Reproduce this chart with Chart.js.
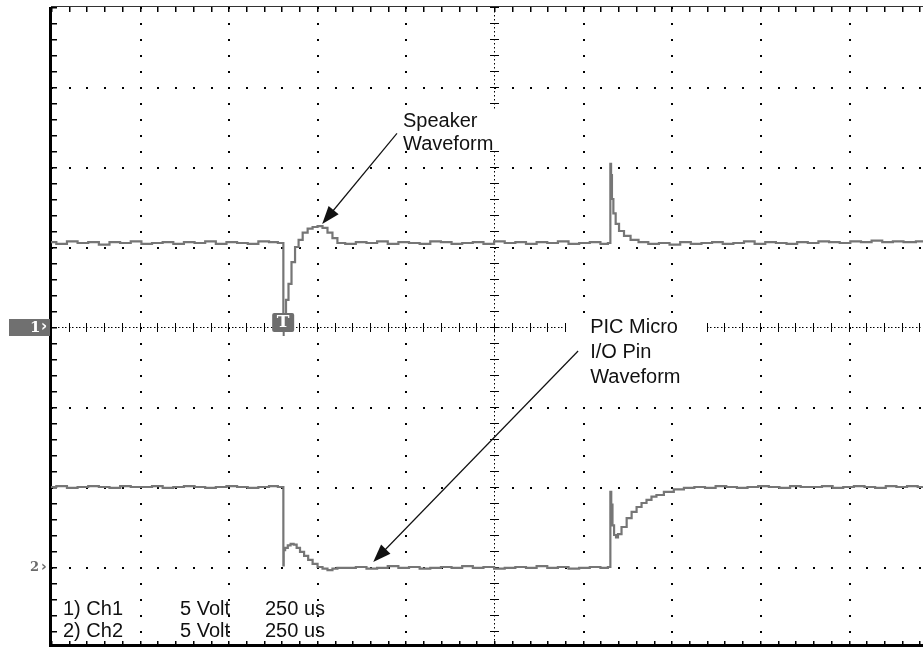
<!DOCTYPE html>
<html>
<head>
<meta charset="utf-8">
<title>Speaker / PIC I/O waveform</title>
<script src="https://cdn.jsdelivr.net/npm/chart.js@4.4.0/dist/chart.umd.min.js"></script>
<style>
  html, body { margin: 0; padding: 0; background: #fff; }
  #scope { display: block; }
</style>
</head>
<body>
<canvas id="scope" width="923" height="647"></canvas>
<script>
// time in us from left edge of the screen, 250 us / div
const ch1Time = [0, 30, 60, 90, 120, 150, 180, 210, 240, 270, 300, 330, 360, 390, 420, 450, 480, 510, 540, 570, 600, 630, 650, 655,
  656, 660, 666, 674, 683, 694, 703, 717, 731, 745, 759, 773, 787, 801, 815,
  845, 875, 905, 935, 965, 995, 1025, 1055, 1085, 1115, 1145, 1175, 1205, 1235, 1265, 1295, 1325, 1355, 1385, 1415, 1445, 1475, 1505, 1535, 1565, 1577,
  1579, 1581, 1584, 1589, 1597, 1608, 1625, 1645, 1670,
  1700, 1730, 1760, 1790, 1820, 1850, 1880, 1910, 1940, 1970, 2000, 2030, 2060, 2090, 2120, 2150, 2180, 2210, 2240, 2270, 2300, 2330, 2360, 2390, 2420, 2460];
// speaker, volts (5 V / div, ground at the "1" marker)
const ch1Volts = [5.3, 5.2, 5.35, 5.25, 5.3, 5.15, 5.3, 5.25, 5.35, 5.2, 5.25, 5.3, 5.2, 5.3, 5.25, 5.35, 5.2, 5.3, 5.25, 5.2, 5.35, 5.3, 5.25, 5.25,
  0.4, 0.45, 1.7, 2.7, 4.05, 5.0, 5.45, 5.9, 6.15, 6.25, 6.3, 6.2, 5.9, 5.55, 5.25,
  5.2, 5.3, 5.25, 5.35, 5.2, 5.3, 5.25, 5.2, 5.35, 5.3, 5.2, 5.25, 5.3, 5.2, 5.35, 5.25, 5.3, 5.2, 5.3, 5.25, 5.35, 5.2, 5.25, 5.3, 5.2, 5.25,
  10.2, 9.5, 8.0, 7.1, 6.45, 6.0, 5.7, 5.45, 5.3,
  5.2, 5.25, 5.15, 5.3, 5.2, 5.25, 5.3, 5.2, 5.25, 5.35, 5.2, 5.3, 5.25, 5.2, 5.3, 5.25, 5.35, 5.3, 5.25, 5.35, 5.3, 5.4, 5.3, 5.35, 5.3, 5.35];

const ch2Time = [0, 30, 60, 90, 120, 150, 180, 210, 240, 270, 300, 330, 360, 390, 420, 450, 480, 510, 540, 570, 600, 630, 650, 655,
  656, 657, 664, 672, 680, 689, 697, 708, 720, 731, 745, 759, 773, 787, 801, 815,
  845, 875, 905, 935, 965, 995, 1025, 1055, 1085, 1115, 1145, 1175, 1205, 1235, 1265, 1295, 1325, 1355, 1385, 1415, 1445, 1475, 1505, 1535, 1565, 1577,
  1579, 1582, 1586, 1591, 1597, 1602, 1617, 1631, 1645, 1659, 1673, 1687, 1701, 1715, 1743, 1771, 1800,
  1830, 1860, 1890, 1920, 1950, 1980, 2010, 2040, 2070, 2100, 2130, 2160, 2190, 2220, 2250, 2280, 2310, 2340, 2370, 2400, 2430, 2460];
// PIC I/O pin, volts (ground at the "2" marker)
const ch2Volts = [5.0, 5.05, 4.95, 5.0, 5.05, 5.0, 4.95, 5.05, 5.0, 5.0, 5.05, 4.95, 5.0, 5.05, 5.0, 4.95, 5.0, 5.05, 5.0, 4.95, 5.0, 5.05, 5.0, 5.0,
  0.1, 1.05, 1.2, 1.35, 1.45, 1.4, 1.2, 0.95, 0.7, 0.45, 0.2, 0.0, -0.1, -0.2, -0.1, -0.05,
  -0.05, 0.0, -0.1, -0.05, 0.05, -0.05, 0.0, -0.1, -0.05, 0.0, -0.05, 0.05, -0.05, 0.0, -0.1, -0.05, 0.0, -0.05, 0.05, -0.05, 0.0, -0.1, -0.05, 0.0, -0.05, 0.0,
  4.7, 3.9, 2.6, 2.0, 1.85, 2.05, 2.5, 3.05, 3.45, 3.75, 4.0, 4.2, 4.4, 4.5, 4.7, 4.85, 4.95,
  5.0, 4.95, 5.05, 5.0, 4.95, 5.0, 5.05, 5.0, 4.95, 5.05, 5.0, 5.0, 5.05, 4.95, 5.0, 5.05, 5.0, 4.95, 5.05, 5.0, 5.05, 5.0];

const ch1Ground = 0;
const ch2Ground = -15;
const triggerTime = 655;
const timeDiv = 250;
const voltDiv = 5;
const channelInfo = [['1) Ch1', '5 Volt', '250 us'], ['2) Ch2', '5 Volt', '250 us']];

const TRACE = '#767676';
const FONT = '"Liberation Sans", Arial, sans-serif';

function toPoints(times, volts, offset) {
  return times.map((t, i) => ({ x: t, y: volts[i] + offset }));
}

function drawArrow(ctx, x1, y1, x2, y2) {
  const ang = Math.atan2(y2 - y1, x2 - x1);
  const len = 18, half = 6.5;
  ctx.beginPath();
  ctx.moveTo(x1, y1);
  ctx.lineTo(x2 - Math.cos(ang) * len * 0.7, y2 - Math.sin(ang) * len * 0.7);
  ctx.stroke();
  ctx.beginPath();
  ctx.moveTo(x2, y2);
  ctx.lineTo(x2 - len * Math.cos(ang) + half * Math.sin(ang), y2 - len * Math.sin(ang) - half * Math.cos(ang));
  ctx.lineTo(x2 - len * Math.cos(ang) - half * Math.sin(ang), y2 - len * Math.sin(ang) + half * Math.cos(ang));
  ctx.closePath();
  ctx.fill();
}

/**
 * Сетка осциллографа: точечные линии, центральный крест, риски по краям
 */
const graticule = {
  id: 'graticule',
  beforeDatasetsDraw(chart) {
    const { ctx, chartArea: a, scales: { x, y } } = chart;
    const tMax = x.max, vMin = y.min, vMax = y.max;
    const minorT = timeDiv / 5, minorV = voltDiv / 5;
    ctx.save();
    ctx.fillStyle = '#000';

    // vertical lines
    for (let t = timeDiv; t < tMax; t += timeDiv) {
      const px = Math.round(x.getPixelForValue(t));
      const center = t === timeDiv * 5;
      for (let v = vMin; v <= vMax; v += center ? minorV / 4 : minorV) {
        const py = Math.round(y.getPixelForValue(v));
        ctx.fillRect(px, py, center ? 1 : 2, center ? 1.5 : 2);
      }
      if (center) {
        for (let v = vMin; v <= vMax; v += minorV) {
          const py = Math.round(y.getPixelForValue(v));
          ctx.fillRect(px - 4, py, 9, 1);
        }
      }
    }
    // horizontal lines
    for (let v = vMin + voltDiv; v < vMax; v += voltDiv) {
      const py = Math.round(y.getPixelForValue(v));
      const center = v === 0;
      for (let t = 0; t <= tMax; t += center ? minorT / 5 : minorT) {
        const px = Math.round(x.getPixelForValue(t));
        ctx.fillRect(px, py, center ? 1.5 : 2, center ? 1 : 2);
      }
      if (center) {
        for (let t = 0; t <= tMax; t += minorT) {
          const px = Math.round(x.getPixelForValue(t));
          ctx.fillRect(px, py - 4, 1, 9);
        }
      }
    }
    // edge ticks
    for (let v = vMin; v <= vMax; v += minorV) {
      const py = Math.round(y.getPixelForValue(v));
      ctx.fillRect(a.left, py, 6, 1.5);
    }
    for (let t = 0; t <= tMax; t += minorT) {
      const px = Math.round(x.getPixelForValue(t));
      ctx.fillRect(px, a.top, 1.5, 5);
      ctx.fillRect(px, a.bottom - 6, 1.5, 5);
    }
    // frame
    ctx.fillRect(a.left - 2, a.top, 3, a.bottom - a.top);
    ctx.fillRect(a.left - 2, a.bottom - 3, a.right - a.left + 2, 3);
    ctx.fillStyle = '#333';
    ctx.fillRect(a.left, a.top - 1, a.right - a.left, 1);

    // text blocks sit on a blank patch of the screen
    ctx.fillStyle = '#fff';
    const sx = x.getPixelForValue(993), sy = y.getPixelForValue(12.5);
    ctx.fillRect(sx - 2, sy - 17, 98, 40);
    const px = x.getPixelForValue(1521), py = y.getPixelForValue(-0.375);
    ctx.fillRect(px - 24, py - 18, 140, 80);
    ctx.restore();
  },
  afterDatasetsDraw(chart) {
    const { ctx, chartArea: a, scales: { x, y } } = chart;
    ctx.save();

    // channel markers
    const y1 = y.getPixelForValue(ch1Ground);
    ctx.fillStyle = '#707070';
    ctx.fillRect(9, y1 - 8, 41, 17);
    ctx.fillStyle = '#fff';
    ctx.font = 'bold 15px "DejaVu Serif", serif';
    ctx.textBaseline = 'middle';
    ctx.fillText('1', 30, y1 + 1);
    ctx.font = 'bold 15px "DejaVu Sans", sans-serif';
    ctx.fillText('›', 41, y1);
    const y2 = y.getPixelForValue(ch2Ground);
    ctx.fillStyle = '#6a6a6a';
    ctx.font = 'bold 13px "DejaVu Serif", serif';
    ctx.fillText('2', 30, y2 + 1);
    ctx.font = 'bold 14px "DejaVu Sans", sans-serif';
    ctx.fillText('›', 41, y2);

    // trigger marker
    const tx = x.getPixelForValue(triggerTime);
    ctx.fillStyle = '#6e6e6e';
    ctx.beginPath();
    ctx.roundRect(tx - 11, y1 - 14, 22, 19, 2);
    ctx.fill();
    ctx.fillRect(tx - 0.5, y1 + 5, 2, 4);
    ctx.fillStyle = '#fff';
    ctx.font = 'bold 17px "DejaVu Serif", serif';
    ctx.textAlign = 'center';
    ctx.fillText('T', tx, y1 - 4);

    // annotations
    ctx.fillStyle = '#111';
    ctx.strokeStyle = '#111';
    ctx.lineWidth = 1.2;
    ctx.textAlign = 'left';
    ctx.textBaseline = 'alphabetic';
    ctx.font = '20px ' + FONT;
    const sx = x.getPixelForValue(993), sy = y.getPixelForValue(12.5);
    ctx.fillText('Speaker', sx, sy);
    ctx.fillText('Waveform', sx, sy + 23);
    drawArrow(ctx, x.getPixelForValue(976), y.getPixelForValue(12.1), x.getPixelForValue(765), y.getPixelForValue(6.44));

    const px = x.getPixelForValue(1521), py = y.getPixelForValue(-0.375);
    ctx.fillText('PIC Micro', px, py);
    ctx.fillText('I/O Pin', px, py + 25);
    ctx.fillText('Waveform', px, py + 50);
    drawArrow(ctx, x.getPixelForValue(1487), y.getPixelForValue(-1.5), x.getPixelForValue(909), y.getPixelForValue(-14.69));

    // channel settings readout
    ctx.font = '20px ' + FONT;
    channelInfo.forEach((row, i) => {
      const base = a.bottom - 32 + i * 22;
      ctx.fillText(row[0], a.left + 12, base);
      ctx.fillText(row[1], a.left + 129, base);
      ctx.fillText(row[2], a.left + 214, base);
    });
    ctx.restore();
  }
};

const ctx = document.getElementById('scope');
const scopeChart = new Chart(ctx, {
  type: 'line',
  data: {
    datasets: [
      {
        label: 'Ch1',
        data: toPoints(ch1Time, ch1Volts, ch1Ground),
        borderColor: TRACE,
        borderWidth: 2.2,
        pointRadius: 0,
        stepped: 'middle'
      },
      {
        label: 'Ch2',
        data: toPoints(ch2Time, ch2Volts, ch2Ground),
        borderColor: TRACE,
        borderWidth: 2.2,
        pointRadius: 0,
        stepped: 'middle'
      }
    ]
  },
  options: {
    responsive: false,
    animation: false,
    layout: { padding: { left: 51, top: 7, right: 0, bottom: 0 } },
    plugins: { legend: { display: false }, tooltip: { enabled: false } },
    scales: {
      x: { type: 'linear', min: 0, max: 2460, display: false },
      y: { type: 'linear', min: -20, max: 20, display: false }
    }
  },
  plugins: [graticule]
});
</script>
</body>
</html>
